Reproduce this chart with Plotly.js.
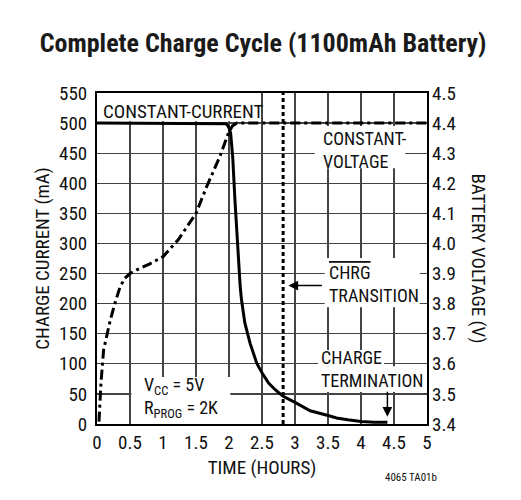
<!DOCTYPE html>
<html>
<head>
<meta charset="utf-8">
<script src="https://cdn.plot.ly/plotly-3.0.1.min.js"></script>
<style>
  html, body { margin: 0; padding: 0; background: #fff; }
  #chart { width: 521px; height: 500px; }
</style>
</head>
<body>
<div id="chart"></div>
<script>
// ---- Data ----
// Charge current (mA, left axis) vs time (hours)
const currentTime = [0, 1.90, 1.95, 1.98, 2.00, 2.025, 2.056, 2.09, 2.12, 2.14, 2.17, 2.19, 2.24, 2.32, 2.42, 2.50, 2.60, 2.70, 2.82, 3.00, 3.23, 3.50, 3.63, 3.80, 4.00, 4.20, 4.40];
const currentMA   = [500, 500, 499, 496, 492, 483, 444, 372, 317, 272, 228, 206, 168, 134, 101, 85, 68, 57, 46, 36, 22, 14, 10, 7, 4, 3, 3];

// Battery voltage (V, right axis) vs time (hours)
const voltageTime = [0.03, 0.06, 0.10, 0.15, 0.20, 0.27, 0.35, 0.42, 0.50, 0.60, 0.80, 1.00, 1.23, 1.50, 1.66, 1.86, 1.99, 2.05, 2.12, 5.00];
const voltageV    = [3.408, 3.536, 3.646, 3.70, 3.744, 3.80, 3.856, 3.884, 3.90, 3.912, 3.932, 3.956, 4.012, 4.10, 4.188, 4.288, 4.366, 4.39, 4.40, 4.40];

// CHRG transition marker (vertical dotted line)
const chrgTransitionTime = [2.82, 2.82];
const chrgTransitionSpan = [0, 550];

// Axis ticks
const timeTicks    = [0, 0.5, 1, 1.5, 2, 2.5, 3, 3.5, 4, 4.5, 5];
const timeLabels   = ["0", "0.5", "1", "1.5", "2", "2.5", "3", "3.5", "4", "4.5", "5"];
const currentTicks = [0, 50, 100, 150, 200, 250, 300, 350, 400, 450, 500, 550];
const voltageTicks = [3.4, 3.5, 3.6, 3.7, 3.8, 3.9, 4.0, 4.1, 4.2, 4.3, 4.4, 4.5];
const voltageLabels = ["3.4", "3.5", "3.6", "3.7", "3.8", "3.9", "4.0", "4.1", "4.2", "4.3", "4.4", "4.5"];

// ---- Style ----
const FONT = '"Roboto Condensed", "Open Sans Condensed", "DejaVu Sans Condensed", sans-serif';
const INK = '#111';
const FS = 19;
const LFS = 18;

const traces = [
  {
    x: voltageTime, y: voltageV, yaxis: 'y2', type: 'scatter', mode: 'lines',
    line: { color: '#000', width: 3, dash: '10px,4px,3px,4px' },
    hoverinfo: 'skip', showlegend: false
  },
  {
    x: currentTime, y: currentMA, type: 'scatter', mode: 'lines',
    line: { color: '#000', width: 3 },
    hoverinfo: 'skip', showlegend: false
  },
  {
    x: chrgTransitionTime, y: chrgTransitionSpan, type: 'scatter', mode: 'lines',
    line: { color: '#000', width: 3, dash: '4px,3px' },
    hoverinfo: 'skip', showlegend: false
  }
];

function box(x0, x1, y0, y1) {
  return { type: 'rect', xref: 'x', yref: 'y', x0: x0, x1: x1, y0: y0, y1: y1,
           fillcolor: '#fff', line: { width: 0 }, layer: 'between' };
}

function label(text, x, y, size) {
  return { text: text, x: x, y: y, xref: 'x', yref: 'y', xanchor: 'left', yanchor: 'middle',
           align: 'left', showarrow: false, borderpad: 0,
           font: { family: FONT, size: size || LFS, color: INK } };
}

const layout = {
  width: 521, height: 500,
  margin: { l: 97, r: 94, t: 93, b: 76, pad: 0 },
  paper_bgcolor: '#fff', plot_bgcolor: '#fff',
  font: { family: FONT, size: FS, color: INK },
  title: {
    text: '<b>Complete Charge Cycle (1100mAh Battery)</b>',
    font: { family: FONT, size: 26, color: '#1a1a1a' },
    x: 0.505, xref: 'container', xanchor: 'center',
    y: 1 - 43 / 500, yref: 'container', yanchor: 'middle'
  },
  xaxis: {
    range: [0, 5], tickvals: timeTicks, ticktext: timeLabels, ticks: '',
    showgrid: true, gridcolor: '#444', gridwidth: 1.2, zeroline: false,
    showline: true, linecolor: '#000', linewidth: 2, mirror: true,
    tickfont: { family: FONT, size: FS, color: INK },
    title: { text: 'TIME (HOURS)', font: { family: FONT, size: FS, color: INK }, standoff: 8 },
    fixedrange: true
  },
  yaxis: {
    range: [0, 550], tickvals: currentTicks, ticks: '', ticklabelstandoff: 4,
    showgrid: true, gridcolor: '#444', gridwidth: 1.2, zeroline: false,
    showline: true, linecolor: '#000', linewidth: 2, mirror: true,
    tickfont: { family: FONT, size: FS, color: INK },
    title: { text: 'CHARGE CURRENT (mA)', font: { family: FONT, size: FS, color: INK }, standoff: 4 },
    fixedrange: true
  },
  yaxis2: {
    overlaying: 'y', side: 'right', range: [3.4, 4.5],
    tickvals: voltageTicks, ticktext: voltageLabels, ticks: '', ticklabelstandoff: 4,
    showgrid: false, zeroline: false, showline: false,
    tickfont: { family: FONT, size: FS, color: INK },
    fixedrange: true
  },
  shapes: [
    box(0.0, 2.45, 503, 550),     // CONSTANT-CURRENT
    box(3.30, 4.67, 425, 495),    // CONSTANT-VOLTAGE
    box(3.45, 4.89, 194, 276),    // CHRG TRANSITION
    box(3.35, 4.35, 96, 123),     // CHARGE
    box(3.35, 4.98, 53, 96),      // TERMINATION
    box(0.52, 2.02, 0, 78)        // VCC / RPROG
  ],
  annotations: [
    label('CONSTANT-CURRENT', 0.07, 519, FS),
    label('CONSTANT-<br>VOLTAGE', 3.405, 456),
    label('<span style="text-decoration:overline">CHRG</span><br>TRANSITION', 3.50, 232),
    label('CHARGE<br>TERMINATION', 3.38, 92),
    label('V<sub>CC</sub> = 5V<br>R<sub>PROG</sub> = 2K', 0.70, 44),
    { // CHRG transition arrow
      text: '', x: 2.90, y: 230, ax: 3.43, ay: 230, axref: 'x', ayref: 'y', xref: 'x', yref: 'y',
      showarrow: true, arrowhead: 2, arrowsize: 1.3, arrowwidth: 1.5, arrowcolor: '#000'
    },
    { // charge termination arrow
      text: '', x: 4.40, y: 12, ax: 4.40, ay: 56, axref: 'x', ayref: 'y', xref: 'x', yref: 'y',
      showarrow: true, arrowhead: 2, arrowsize: 1.3, arrowwidth: 1.5, arrowcolor: '#000'
    },
    { // right axis title (reads top to bottom)
      text: 'BATTERY VOLTAGE (V)', xref: 'paper', yref: 'paper', x: (478 - 97) / 330, y: 0.5,
      xanchor: 'center', yanchor: 'middle', textangle: 90, showarrow: false,
      font: { family: FONT, size: FS, color: INK }
    },
    { // figure code
      text: '4065 TA01b', xref: 'paper', yref: 'paper', x: (411 - 97) / 330, y: (424 - 477) / 331,
      xanchor: 'center', yanchor: 'middle', showarrow: false,
      font: { family: FONT, size: 11, color: INK }
    }
  ]
};

Plotly.newPlot('chart', traces, layout, { staticPlot: true, displayModeBar: false });
</script>
</body>
</html>
